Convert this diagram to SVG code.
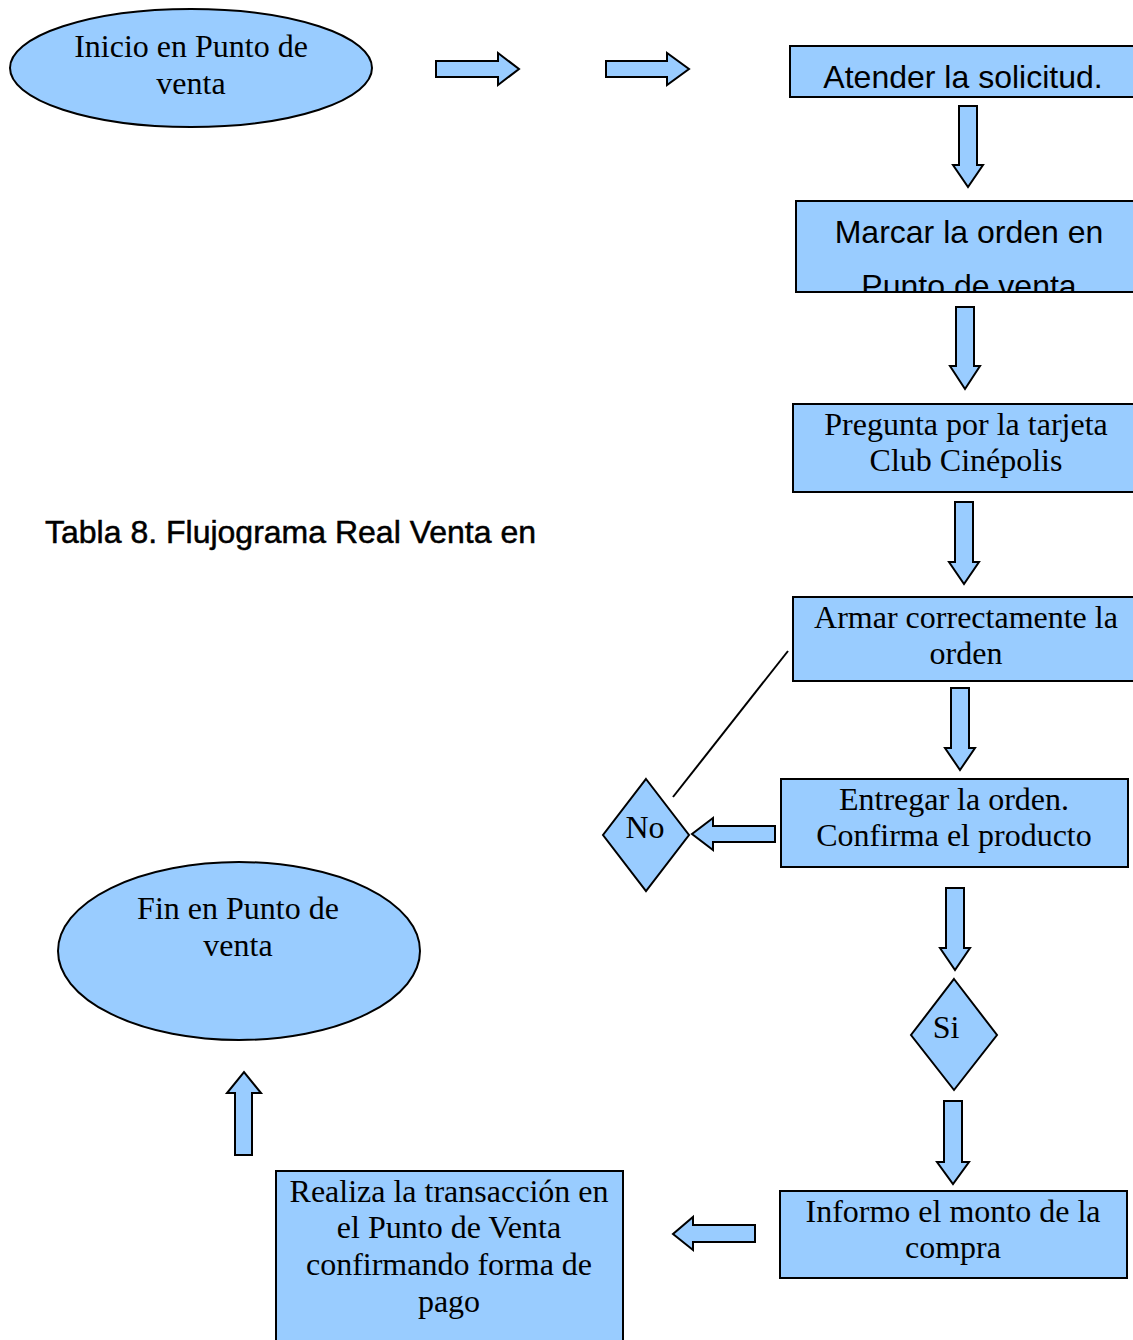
<svg xmlns="http://www.w3.org/2000/svg" width="1133" height="1340" viewBox="0 0 1133 1340">
  <style>
    .shape { fill: #99ccff; stroke: #000; stroke-width: 2; }
    .arrow { fill: #99ccff; stroke: #000; stroke-width: 2; stroke-linejoin: miter; }
    .serif { font-family: "Liberation Serif", "Times New Roman", serif; font-size: 32px; fill: #000; text-anchor: middle; }
    .sans { font-family: "Liberation Sans", Arial, sans-serif; font-size: 32px; fill: #000; text-anchor: middle; }
    .title { font-family: "Liberation Sans", Arial, sans-serif; font-size: 32px; fill: #000; stroke: #000; stroke-width: 0.5; }
  </style>
  <defs>
    <clipPath id="clip-marcar">
      <rect x="796" y="201" width="345" height="91"/>
    </clipPath>
  </defs>
  <rect width="1133" height="1340" fill="#fff"/>

  <text class="title" x="45" y="543">Tabla 8. Flujograma Real Venta en</text>

  <g id="inicio">
    <ellipse class="shape" cx="191" cy="68" rx="181" ry="59"/>
    <text class="serif" x="191" y="57">Inicio en Punto de</text>
    <text class="serif" x="191" y="94">venta</text>
  </g>

  <g id="atender">
    <rect class="shape" x="790" y="46" width="350" height="51"/>
    <text class="sans" x="963" y="88">Atender la solicitud.</text>
  </g>

  <g id="marcar">
    <rect class="shape" x="796" y="201" width="345" height="91"/>
    <g clip-path="url(#clip-marcar)">
      <text class="sans" x="969" y="243">Marcar la orden en</text>
      <text class="sans" x="969" y="297">Punto de venta</text>
    </g>
    <line x1="796" y1="292" x2="1141" y2="292" stroke="#000" stroke-width="2"/>
  </g>

  <g id="pregunta">
    <rect class="shape" x="793" y="404" width="348" height="88"/>
    <text class="serif" x="966" y="435">Pregunta por la tarjeta</text>
    <text class="serif" x="966" y="471">Club Cinépolis</text>
  </g>

  <g id="armar">
    <rect class="shape" x="793" y="597" width="348" height="84"/>
    <text class="serif" x="966" y="628">Armar correctamente la</text>
    <text class="serif" x="966" y="664">orden</text>
  </g>

  <g id="entregar">
    <rect class="shape" x="781" y="779" width="347" height="88"/>
    <text class="serif" x="954" y="810">Entregar la orden.</text>
    <text class="serif" x="954" y="846">Confirma el producto</text>
  </g>

  <g id="no">
    <polygon class="shape" points="646,779 689,835 646,891 603,835"/>
    <text class="serif" x="645" y="838">No</text>
  </g>

  <g id="si">
    <polygon class="shape" points="954,979 997,1035 954,1090 911,1035"/>
    <text class="serif" x="946" y="1038">Si</text>
  </g>

  <g id="informo">
    <rect class="shape" x="780" y="1191" width="347" height="87"/>
    <text class="serif" x="953" y="1222">Informo el monto de la</text>
    <text class="serif" x="953" y="1258">compra</text>
  </g>

  <g id="realiza">
    <rect class="shape" x="276" y="1171" width="347" height="180"/>
    <text class="serif" x="449" y="1202">Realiza la transacción en</text>
    <text class="serif" x="449" y="1238">el Punto de Venta</text>
    <text class="serif" x="449" y="1275">confirmando forma de</text>
    <text class="serif" x="449" y="1312">pago</text>
  </g>

  <g id="fin">
    <ellipse class="shape" cx="239" cy="951" rx="181" ry="89"/>
    <text class="serif" x="238" y="919">Fin en Punto de</text>
    <text class="serif" x="238" y="956">venta</text>
  </g>

  <g id="connectors">
    <!-- right block arrows -->
    <polygon class="arrow" points="436,61 498,61 498,53 519,69 498,85 498,77 436,77"/>
    <polygon class="arrow" points="606,61 667,61 667,53 689,69 667,85 667,77 606,77"/>
    <!-- down block arrows -->
    <polygon class="arrow" points="959,106 977,106 977,165 983,165 968,187 953,165 959,165"/>
    <polygon class="arrow" points="956,307 974,307 974,366 980,366 965,389 950,366 956,366"/>
    <polygon class="arrow" points="955,502 973,502 973,562 979,562 964,584 949,562 955,562"/>
    <polygon class="arrow" points="951,688 969,688 969,748 975,748 960,770 945,748 951,748"/>
    <polygon class="arrow" points="946,888 964,888 964,948 970,948 955,970 940,948 946,948"/>
    <polygon class="arrow" points="944,1101 962,1101 962,1162 969,1162 953,1184 937,1162 944,1162"/>
    <!-- left block arrows -->
    <polygon class="arrow" points="775,826 713,826 713,818 692,834 713,850 713,842 775,842"/>
    <polygon class="arrow" points="755,1225 693,1225 693,1217 673,1234 693,1250 693,1242 755,1242"/>
    <!-- up block arrow -->
    <polygon class="arrow" points="235,1155 235,1093 227,1093 244,1072 261,1093 252,1093 252,1155"/>
    <!-- plain line from No back to Armar -->
    <line x1="673" y1="797" x2="788" y2="651" stroke="#000" stroke-width="2"/>
  </g>
</svg>
